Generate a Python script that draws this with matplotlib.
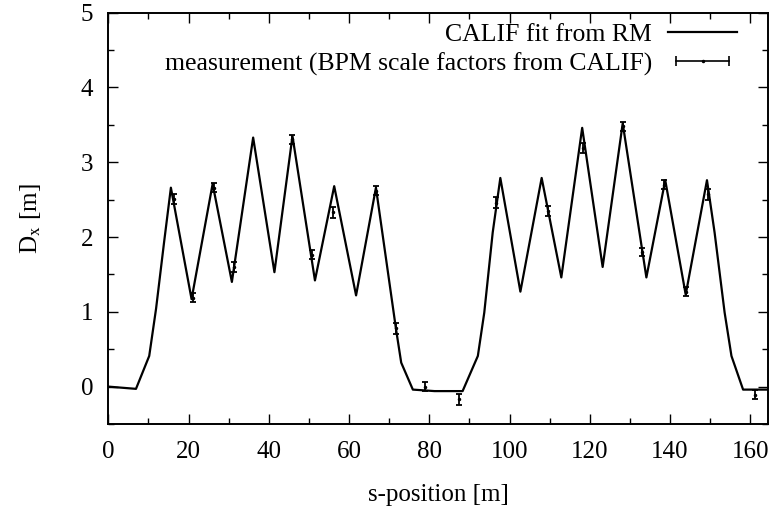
import matplotlib
matplotlib.use("Agg")
import matplotlib.pyplot as plt
from matplotlib.lines import Line2D
from matplotlib.legend_handler import HandlerLine2D
from matplotlib.ticker import MultipleLocator

# CALIF fit (dispersion along the ring)
fit_s = [0.0, 6.9, 10.2, 11.9, 13.9, 15.6, 20.75, 26.0, 30.8, 36.1, 41.4, 45.9,
         51.5, 56.3, 61.75, 66.7, 71.7, 73.0, 75.9, 81.3, 88.3, 92.1, 93.7, 95.8,
         97.7, 102.7, 108.0, 112.9, 118.1, 123.2, 128.2, 134.1, 138.8, 143.9,
         149.2, 151.1, 153.6, 155.3, 158.2, 164.4]
fit_d = [0.0, -0.03, 0.41, 1.04, 1.93, 2.66, 1.17, 2.71, 1.40, 3.33, 1.53, 3.35,
         1.42, 2.68, 1.22, 2.66, 0.77, 0.32, -0.04, -0.06, -0.06, 0.41, 0.99, 2.06,
         2.79, 1.27, 2.79, 1.46, 3.46, 1.60, 3.52, 1.46, 2.76, 1.23,
         2.76, 2.06, 0.99, 0.41, -0.04, -0.04]

# measurement (BPM scale factors from CALIF)
meas_s = [16.4, 21.0, 26.4, 31.4, 45.9, 50.8, 55.9, 66.7, 71.7, 79.0, 87.5,
          96.7, 109.5, 118.25, 128.2, 133.1, 138.6, 143.9, 149.4, 161.1]
meas_d = [2.51, 1.19, 2.66, 1.60, 3.31, 1.76, 2.33, 2.62, 0.78, 0.00, -0.17,
          2.46, 2.35, 3.19, 3.48, 1.80, 2.70, 1.27, 2.57, -0.11]
meas_err = [0.07, 0.06, 0.06, 0.07, 0.06, 0.06, 0.07, 0.06, 0.07, 0.06, 0.07,
            0.07, 0.07, 0.07, 0.06, 0.06, 0.06, 0.06, 0.07, 0.06]

xticks = [0, 20, 40, 60, 80, 100, 120, 140, 160]
yticks = [0, 1, 2, 3, 4, 5]

plt.rcParams['font.family'] = ['Liberation Serif', 'DejaVu Serif']
plt.rcParams['mathtext.fontset'] = 'stix'

fig = plt.figure(figsize=(7.78, 5.07), dpi=100)
ax = fig.add_axes([0.1392, 0.1637, 0.9871 - 0.1392, 0.975 - 0.1637])

fit_line, = ax.plot(fit_s, fit_d, color='black', lw=1.6)
ax.errorbar(meas_s, meas_d, yerr=meas_err, fmt='.', color='black', ms=3,
            elinewidth=1.3, capsize=2.5, capthick=1.3)

ax.set_xlim(0, 164.4)
ax.set_ylim(-0.5, 5)
ax.set_xticks(xticks)
ax.set_yticks(yticks)
ax.xaxis.set_minor_locator(MultipleLocator(10))
ax.yaxis.set_minor_locator(MultipleLocator(0.5))
ax.tick_params(which='both', direction='in', top=True, right=True, width=1.0)
ax.tick_params(which='major', length=7, labelsize=18)
ax.tick_params(which='minor', length=4)
ax.tick_params(axis='x', which='major', pad=12)
ax.tick_params(axis='y', which='major', pad=11)
for sp in ax.spines.values():
    sp.set_linewidth(1.4)

ax.set_xlabel('s-position [m]', fontsize=18, labelpad=15)
ax.set_ylabel(r'D$_{\rm x}$ [m]', fontsize=18, labelpad=27)

cap_h = Line2D([], [], color='black', lw=1.2, marker='|', ms=7, mew=1.2)
dot_h = Line2D([], [], color='black', ls='none', marker='.', ms=3)
ax.legend([fit_line, (cap_h, dot_h)],
          ['CALIF fit from RM', 'measurement (BPM scale factors from CALIF)'],
          loc='upper right', bbox_to_anchor=(0.953, 0.975), frameon=False,
          markerfirst=False, fontsize=18.5, handlelength=2.68, handletextpad=0.62,
          labelspacing=0.25, borderpad=0.0, borderaxespad=0.0,
          handler_map={cap_h: HandlerLine2D(numpoints=2),
                       dot_h: HandlerLine2D(numpoints=1)})

fig.savefig('out.png', dpi=100)
